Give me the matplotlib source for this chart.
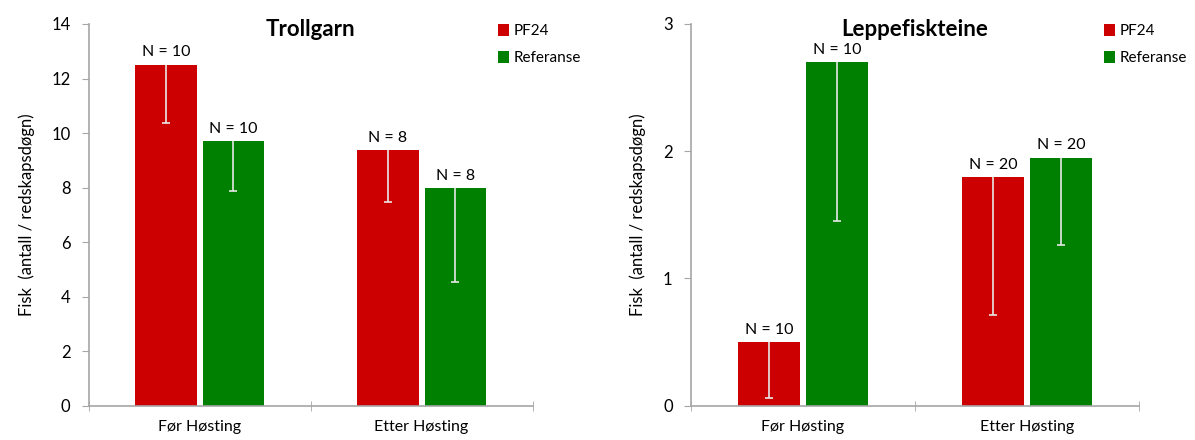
import matplotlib
matplotlib.use('Agg')
import matplotlib.pyplot as plt
import numpy as np

plt.rcParams['font.family'] = ['Lato', 'DejaVu Sans']

RED = '#CC0000'
GREEN = '#008000'
AXIS_GREY = '#a6a6a6'
ERR_COLOR = '#e8e8e8'

categories = ['Før Høsting', 'Etter Høsting']
series_names = ['PF24', 'Referanse']

# Trollgarn
troll_pf24 = [12.5, 9.37]
troll_ref = [9.7, 7.97]
troll_pf24_err = [2.13, 1.91]
troll_ref_err = [1.84, 3.44]
troll_pf24_n = [10, 8]
troll_ref_n = [10, 8]

# Leppefiskteine
leppe_pf24 = [0.50, 1.80]
leppe_ref = [2.70, 1.95]
leppe_pf24_err = [0.44, 1.09]
leppe_ref_err = [1.25, 0.69]
leppe_pf24_n = [10, 20]
leppe_ref_n = [10, 20]


def draw_panel(ax, title, pf24, ref, pf24_err, ref_err, pf24_n, ref_n, ymax, ystep, label_pad):
    x = np.arange(len(categories))
    width = 0.277
    offset = 0.152
    for vals, errs, ns, color, name, sign in [(pf24, pf24_err, pf24_n, RED, series_names[0], -1),
                                              (ref, ref_err, ref_n, GREEN, series_names[1], 1)]:
        xs = x + sign * offset
        vals = np.array(vals)
        lower = vals - np.array(errs)
        ax.bar(xs, vals, width, color=color, label=name, zorder=2)
        # only the lower half of the error bar is drawn
        ax.vlines(xs, lower, vals, color=ERR_COLOR, linewidth=1.2, zorder=3)
        ax.plot(xs, lower, linestyle='none', marker='_', markersize=6,
                markeredgewidth=1.2, color=ERR_COLOR, zorder=3)
        for xi, v, n in zip(xs, vals, ns):
            ax.text(xi, v + label_pad, f'N = {n}', ha='center', va='bottom', fontsize=11.5)

    ax.set_xlim(-0.5, 1.5)
    ax.set_ylim(0, ymax)
    ax.set_yticks(np.arange(0, ymax + 0.001, ystep))
    ax.set_xticks(x)
    ax.set_xticklabels(categories, fontsize=11.5)
    ax.set_xticks([-0.5, 0.5, 1.5], minor=True)
    ax.tick_params(axis='x', which='major', length=0, pad=10)
    ax.tick_params(axis='x', which='minor', length=7, color=AXIS_GREY, direction='inout')
    ax.tick_params(axis='y', length=5, color=AXIS_GREY, labelsize=12, pad=8)
    for side in ['top', 'right']:
        ax.spines[side].set_visible(False)
    for side in ['left', 'bottom']:
        ax.spines[side].set_color(AXIS_GREY)
        ax.spines[side].set_linewidth(1.2)
    ax.set_ylabel('Fisk  (antall / redskapsdøgn)', fontsize=12, labelpad=12)
    ax.text(0.5, 0.985, title, transform=ax.transAxes, ha='center', va='center',
            fontsize=16, fontweight='bold')
    ax.legend(loc='upper left', bbox_to_anchor=(0.89, 1.035), frameon=False, fontsize=11,
              handlelength=0.75, handleheight=0.75, handletextpad=0.3, labelspacing=0.85)


if __name__ == "__main__":
    fig = plt.figure(figsize=(11.95, 4.4), dpi=100, facecolor='w')
    ax1 = fig.add_axes([0.0741, 0.078, 0.3716, 0.8675])
    ax2 = fig.add_axes([0.578, 0.078, 0.3754, 0.8675])

    draw_panel(ax1, 'Trollgarn', troll_pf24, troll_ref, troll_pf24_err, troll_ref_err,
               troll_pf24_n, troll_ref_n, 14, 2, 0.2)
    draw_panel(ax2, 'Leppefiskteine', leppe_pf24, leppe_ref, leppe_pf24_err, leppe_ref_err,
               leppe_pf24_n, leppe_ref_n, 3, 1, 0.04)

    fig.savefig('out.png', dpi=100)
